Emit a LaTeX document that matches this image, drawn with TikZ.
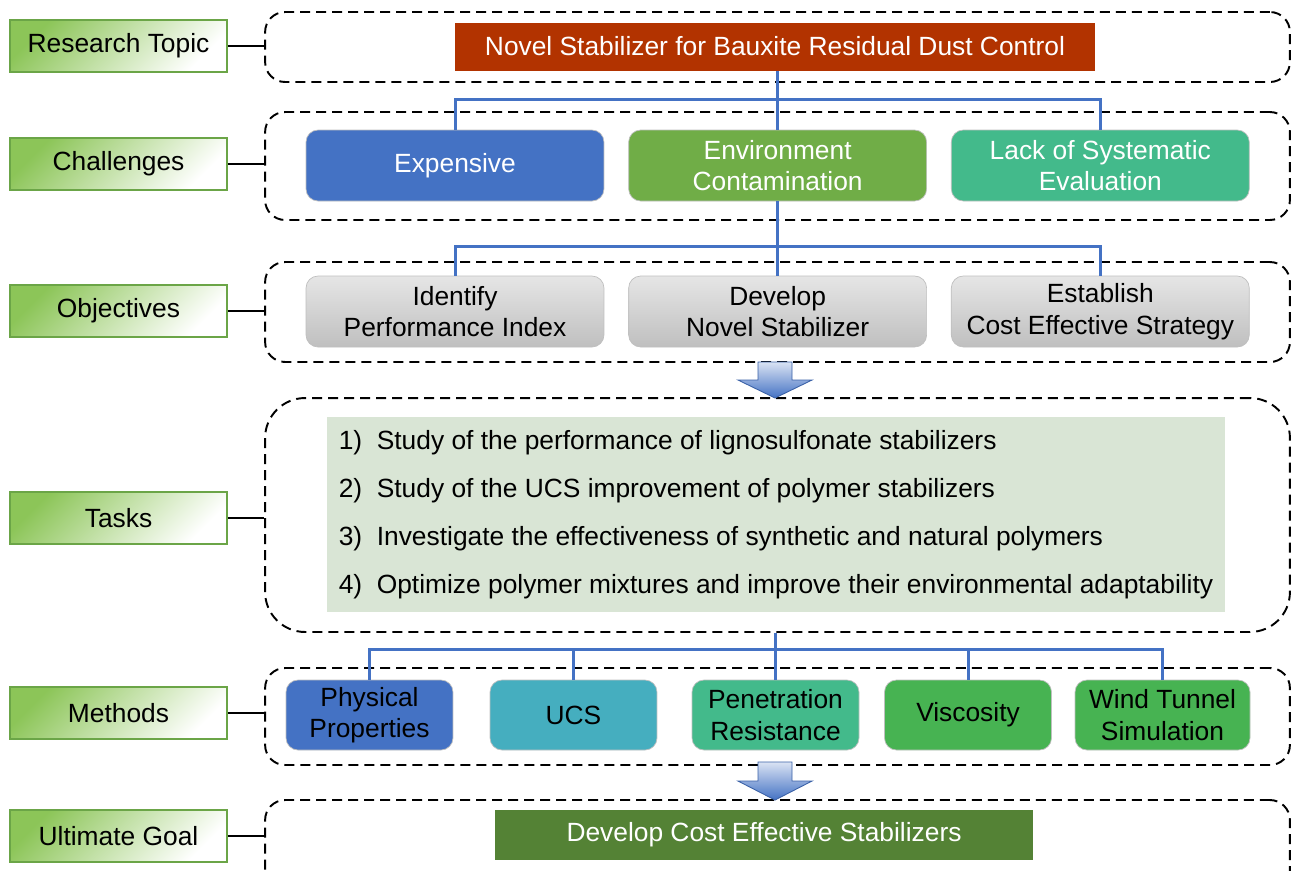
\documentclass[tikz,border=0pt]{standalone}
\usepackage{fontspec}
\setmainfont{Liberation Sans}
\usepackage{tikz}
\usetikzlibrary{positioning,arrows.meta}
\definecolor{rust}{HTML}{B23300}
\definecolor{cblue}{HTML}{4472C4}
\definecolor{cgreen}{HTML}{70AD47}
\definecolor{cteal}{HTML}{43BA8B}
\definecolor{ccyan}{HTML}{45AEBF}
\definecolor{lgreen}{HTML}{47B352}
\definecolor{dgreen}{HTML}{548235}
\definecolor{taskBg}{HTML}{D9E5D5}
\definecolor{tagGreen}{HTML}{8CC558}
\definecolor{tagEdge}{HTML}{6BA547}

\begin{document}
\begin{tikzpicture}[
  x=0.02cm, y=-0.02cm,
  every node/.style={font=\fontsize{15}{18}\selectfont},
  tag/.style={rectangle, draw=tagEdge, line width=1pt, top color=tagGreen, middle color=tagGreen!50, bottom color=white, shading angle=45, minimum width=4.34cm, minimum height=1.04cm},
  grp/.style={rectangle, rounded corners=0.4cm, draw, dash pattern=on 0.2cm off 0.12cm, line width=1.1pt, minimum width=20.5cm},
  card/.style={rectangle, rounded corners=0.24cm, draw=black!25, align=center, text=white, minimum width=5.96cm, minimum height=1.42cm},
  objbox/.style={card, top color=black!10, bottom color=black!25, text=black},
  meth/.style={card, text=black, minimum width=3.34cm, minimum height=1.4cm},
  bus/.style={cblue, line width=1.7pt},
  link/.style={line width=0.8pt},
  bigarrow/.style={draw=cblue!85!black, line width=0.5pt, top color=cblue!20, bottom color=cblue}
]
\useasboundingbox (0,0) rectangle (1293,870);

\node[grp, minimum height=1.4cm] (gTopic) at (777.5,47) {};
\node[grp, minimum height=2.16cm] (gChal) at (777.5,166) {};
\node[grp, minimum height=2.0cm] (gObj) at (777.5,312) {};
\node[grp, minimum height=4.68cm, rounded corners=0.8cm] (gTask) at (777.5,515) {};
\node[grp, minimum height=1.94cm] (gMeth) at (777.5,716.5) {};
\node[grp, minimum height=2.0cm] (gGoal) at (777.5,850) {};

\node[tag] (tTopic) at (118.5,46) {Research Topic};
\node[tag] (tChal) at (118.5,164) {Challenges};
\node[tag] (tObj) at (118.5,311) {Objectives};
\node[tag] (tTask) at (118.5,518) {Tasks};
\node[tag] (tMeth) at (118.5,713) {Methods};
\node[tag] (tGoal) at (118.5,836) {Ultimate Goal};
\foreach \t/\g in {tTopic/gTopic, tChal/gChal, tObj/gObj, tTask/gTask, tMeth/gMeth, tGoal/gGoal}
  \draw[link] (\t.east) -- (\t.east -| \g.west);

\node[fill=rust, text=white, minimum width=12.8cm, minimum height=0.96cm] (topic) at (775,46.5) {Novel Stabilizer for Bauxite Residual Dust Control};

\node[card, fill=cblue] (cExp) at (455,165.5) {Expensive};
\node[card, fill=cgreen, right=0.48cm of cExp] (cEnv) {Environment\\Contamination};
\node[card, fill=cteal, right=0.48cm of cEnv] (cLack) {Lack of Systematic\\Evaluation};

\node[objbox] (oIdx) at (455,311.5) {Identify\\Performance Index};
\node[objbox, right=0.48cm of oIdx] (oDev) {Develop\\Novel Stabilizer};
\node[objbox, right=0.48cm of oDev] (oEst) {Establish\\Cost Effective Strategy};

\node[fill=taskBg, minimum width=17.96cm, minimum height=3.9cm, align=left, font=\fontsize{15}{27.4}\selectfont] (tasks) at (776,514.5) {1)~ Study of the performance of lignosulfonate stabilizers\\2)~ Study of the UCS improvement of polymer stabilizers\\3)~ Investigate the effectiveness of synthetic and natural polymers\\4)~ Optimize polymer mixtures and improve their environmental adaptability};

\node[meth, fill=cblue] (mPhy) at (369.5,715) {Physical\\Properties};
\node[meth, fill=ccyan] (mUcs) at (573.5,715) {UCS};
\node[meth, fill=cteal] (mPen) at (775.5,715) {Penetration\\Resistance};
\node[meth, fill=lgreen] (mVis) at (968,715) {Viscosity};
\node[meth, fill=lgreen, minimum width=3.5cm] (mWind) at (1162.5,715) {Wind Tunnel\\Simulation};

\node[fill=dgreen, text=white, minimum width=10.76cm, minimum height=1cm] (goal) at (764,835) {Develop Cost Effective Stabilizers};

\draw[bus] (cEnv.north) -- (cEnv.north |- topic.south);
\draw[bus] (cExp.north) -- ++(0,-30) -| (cLack.north);
\draw[bus] (oDev.north) -- (cEnv.south);
\draw[bus] (oIdx.north) -- ++(0,-29) -| (oEst.north);
\draw[bus] (mPen.north) -- (mPen.north |- gTask.south);
\draw[bus] (mPhy.north) -- ++(0,-30) -| (mWind.north);
\draw[bus] (mUcs.north) -- ++(0,-30);
\draw[bus] (mVis.north) -- ++(0,-30);

\path[bigarrow] (758,362) -- (792,362) -- (792,380) -- (812,380) -- (775,398) -- (738,380) -- (758,380) -- cycle;
\path[bigarrow] (758,762) -- (792,762) -- (792,781) -- (812,781) -- (775,800) -- (738,781) -- (758,781) -- cycle;
\end{tikzpicture}
\end{document}
